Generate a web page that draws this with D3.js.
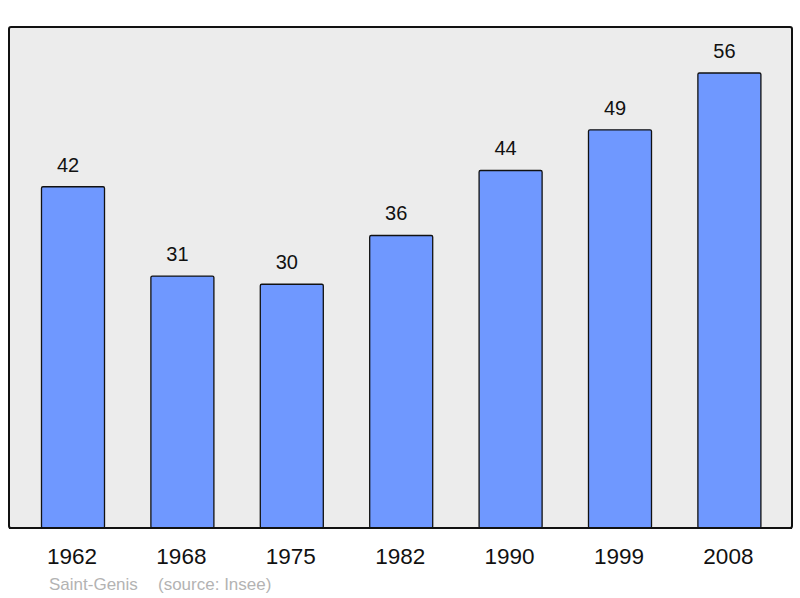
<!DOCTYPE html>
<html><head><meta charset="utf-8">
<script src="https://cdn.jsdelivr.net/npm/d3@7"></script>
<style>body{margin:0;background:#fff}svg{display:block;font-family:"Liberation Sans",Arial,sans-serif}</style>
</head><body>
<svg id="c" width="800" height="598"></svg>
<script>
const years = ["1962","1968","1975","1982","1990","1999","2008"];
const population = [42,31,30,36,44,49,56];
const place = "Saint-Genis";
const source = "(source: Insee)";

(function(){
const svg = d3.select("#c");
const pTop = 27, pBottom = 528, pLeft = 9, pRight = 792;
const y = d3.scaleLinear().domain([0, 61.66]).range([pBottom, pTop]);
const x = d3.scaleBand().domain(years).range([18.3, 784.1]).paddingInner(0.424).paddingOuter(0.212);

svg.append("rect").attr("x", pLeft).attr("y", pTop).attr("width", pRight-pLeft).attr("height", pBottom-pTop)
  .attr("rx", 2).attr("fill", "#ececec").attr("stroke", "#111").attr("stroke-width", 2);

const data = years.map((yr,i)=>({yr, v: population[i]}));
svg.selectAll("rect.bar").data(data).join("rect").attr("class","bar")
  .attr("x", d=>x(d.yr)).attr("width", x.bandwidth())
  .attr("y", d=>y(d.v)).attr("height", d=>pBottom - y(d.v))
  .attr("rx", 1.5)
  .attr("fill", "#6f98ff").attr("stroke", "#111").attr("stroke-width", 1.3);

svg.selectAll("text.val").data(data).join("text").attr("class","val")
  .attr("x", d=>x(d.yr)+x.bandwidth()/2-5).attr("y", d=>y(d.v)-15)
  .attr("text-anchor","middle").attr("font-size", 20).attr("fill","#111").text(d=>d.v);

svg.append("line").attr("x1", pLeft).attr("x2", pRight).attr("y1", pBottom).attr("y2", pBottom)
  .attr("stroke", "#111").attr("stroke-width", 2);

svg.selectAll("text.yr").data(years).join("text").attr("class","yr")
  .attr("x", d=>x(d)+x.bandwidth()/2-1).attr("y", 564)
  .attr("text-anchor","middle").attr("font-size", 22.5).attr("fill","#111").text(d=>d);

svg.append("text").attr("x", 49).attr("y", 590).attr("font-size", 17).attr("fill", "#b3b3b3").text(place);
svg.append("text").attr("x", 158).attr("y", 590).attr("font-size", 17).attr("fill", "#b3b3b3").text(source);
})();
</script>
</body></html>
